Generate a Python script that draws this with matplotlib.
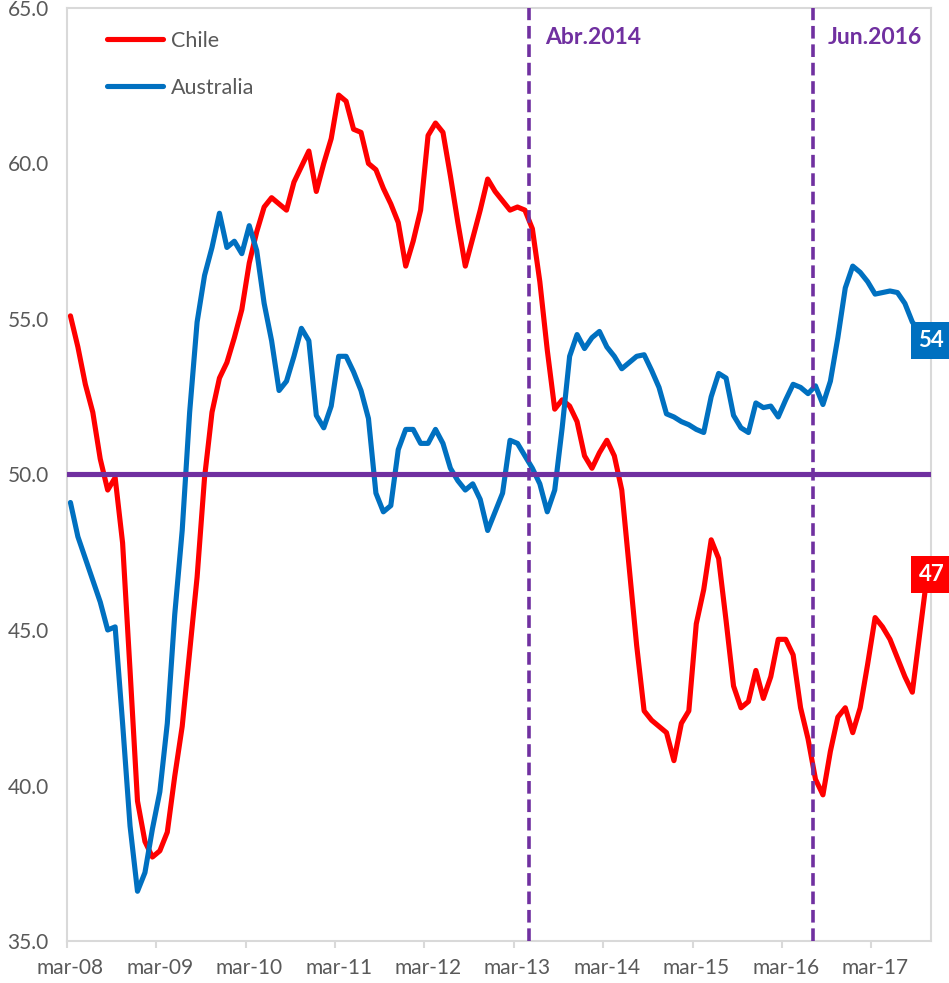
import matplotlib.pyplot as plt
import numpy as np

plt.rcParams['font.family'] = ['Lato', 'DejaVu Sans']

# monthly PMI-like index, mar-08 .. oct-17
chile = [55.1, 54.1, 52.9, 52.0, 50.5, 49.5, 49.9, 47.8, 43.7, 39.5,
         38.2, 37.7, 37.9, 38.5, 40.3, 41.9, 44.3, 46.7, 49.9, 52.0,
         53.1, 53.6, 54.4, 55.3, 56.8, 57.8, 58.6, 58.9, 58.7, 58.5,
         59.4, 59.9, 60.4, 59.1, 60.0, 60.8, 62.2, 62.0, 61.1, 61.0,
         60.0, 59.8, 59.2, 58.7, 58.1, 56.7, 57.5, 58.5, 60.9, 61.3,
         61.0, 59.6, 58.1, 56.7, 57.6, 58.5, 59.5, 59.1, 58.8, 58.5,
         58.6, 58.5, 57.9, 56.2, 54.0, 52.1, 52.4, 52.2, 51.7, 50.6,
         50.2, 50.7, 51.1, 50.6, 49.5, 47.0, 44.5, 42.4, 42.1, 41.9,
         41.7, 40.8, 42.0, 42.4, 45.2, 46.3, 47.9, 47.3, 45.3, 43.2,
         42.5, 42.7, 43.7, 42.8, 43.5, 44.7, 44.7, 44.2, 42.5, 41.5,
         40.2, 39.7, 41.1, 42.2, 42.5, 41.7, 42.5, 43.9, 45.4, 45.1,
         44.7, 44.1, 43.5, 43.0, 44.9, 46.8]

australia = [49.1, 48.0, 47.3, 46.6, 45.9, 45.0, 45.1, 42.0, 38.7, 36.6,
             37.2, 38.6, 39.8, 42.0, 45.5, 48.2, 52.0, 54.9, 56.4, 57.3,
             58.4, 57.3, 57.5, 57.1, 58.0, 57.2, 55.5, 54.3, 52.7, 53.0,
             53.8, 54.7, 54.3, 51.9, 51.5, 52.2, 53.8, 53.8, 53.3, 52.7,
             51.8, 49.4, 48.8, 49.0, 50.8, 51.45, 51.45, 51.0, 51.0, 51.45,
             51.0, 50.2, 49.8, 49.5, 49.7, 49.2, 48.2, 48.8, 49.4, 51.1,
             51.0, 50.6, 50.2, 49.7, 48.8, 49.5, 51.5, 53.8, 54.5, 54.05,
             54.4, 54.6, 54.1, 53.8, 53.4, 53.6, 53.8, 53.85, 53.35, 52.8,
             51.95, 51.85, 51.7, 51.6, 51.45, 51.35, 52.5, 53.25, 53.1, 51.9,
             51.5, 51.35, 52.3, 52.15, 52.2, 51.85, 52.4, 52.9, 52.8, 52.6,
             52.85, 52.25, 53.0, 54.4, 56.0, 56.7, 56.5, 56.2, 55.8, 55.85,
             55.9, 55.85, 55.5, 54.9, 54.6, 54.3]

tick_labels = ['mar-08', 'mar-09', 'mar-10', 'mar-11', 'mar-12',
               'mar-13', 'mar-14', 'mar-15', 'mar-16', 'mar-17']

events = ['Abr.2014', 'Jun.2016']
event_pos = [61.6, 99.6]

RED = '#FF0000'
BLUE = '#0070C0'
PURPLE = '#7030A0'
GRAY = '#595959'
SPINE = '#D9D9D9'

x = np.arange(len(chile))

fig = plt.figure(figsize=(9.49, 9.83), dpi=100)
ax = fig.add_axes([0.0703, 0.0427, 0.9107, 0.9492])

ax.plot(x, chile, color=RED, lw=3.7, label='Chile',
        solid_capstyle='round', solid_joinstyle='round', zorder=3)
ax.plot(x, australia, color=BLUE, lw=3.7, label='Australia',
        solid_capstyle='round', solid_joinstyle='round', zorder=3)

ax.axhline(50, color=PURPLE, lw=3.7, solid_capstyle='round', zorder=4)
for name, pos in zip(events, event_pos):
    ax.axvline(pos, color=PURPLE, lw=2.6, ls=(0, (3.5, 1.6)), zorder=5)
    ax.annotate(name, xy=(pos, 65), xytext=(11, -21), textcoords='offset points',
                ha='left', va='center', color=PURPLE, fontsize=16.5,
                fontweight='bold')

# end labels
for vals, col in [(australia, BLUE), (chile, RED)]:
    ax.annotate(f'{vals[-1]:.0f}', xy=(x[-1], vals[-1]), xytext=(3, 0),
                textcoords='offset points', ha='center', va='center',
                color='white', fontsize=16, fontweight='bold',
                bbox=dict(boxstyle='square,pad=0.36', fc=col, ec='none'),
                annotation_clip=False, zorder=6)

ax.set_xlim(-0.5, len(chile) - 0.5)
ax.set_ylim(35, 65)
ax.set_yticks(np.arange(35, 66, 5))
ax.set_yticklabels([f'{v:.1f}' for v in np.arange(35, 66, 5)])

ax.set_xticks(np.arange(0, len(chile), 12))
ax.set_xticklabels(tick_labels)
ax.set_xticks(np.arange(-0.5, len(chile), 12), minor=True)
ax.tick_params(axis='x', which='major', length=0, pad=12, labelsize=15,
               labelcolor=GRAY)
ax.tick_params(axis='x', which='minor', length=5, width=1.5, color=SPINE)
ax.tick_params(axis='y', length=0, pad=13, labelsize=15, labelcolor=GRAY)

for sp in ax.spines.values():
    sp.set_color(SPINE)
    sp.set_linewidth(1.5)

ax.legend(loc='upper left', bbox_to_anchor=(107 / 949, 1 - 31 / 983),
          bbox_transform=fig.transFigure, frameon=False, fontsize=15.5,
          handlelength=2.6, handletextpad=0.35, labelspacing=1.25,
          borderpad=0, borderaxespad=0, labelcolor=GRAY)

fig.savefig('out.png', dpi=100)
